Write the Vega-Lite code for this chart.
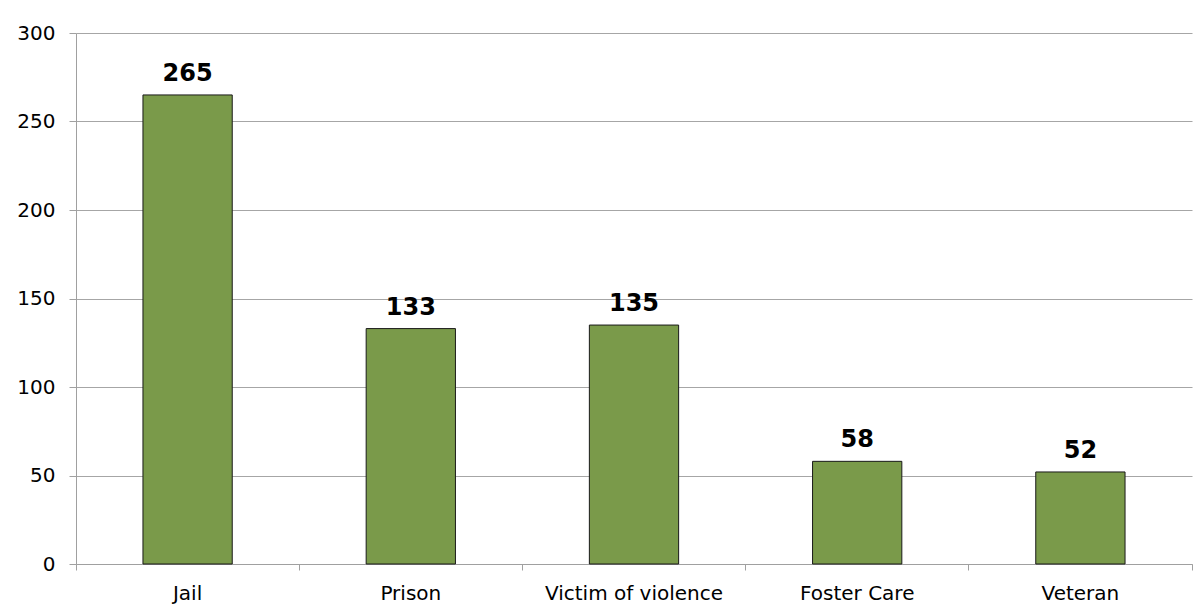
{
  "$schema": "https://vega.github.io/schema/vega-lite/v6.json",
  "width": 1116,
  "height": 531,
  "autosize": {"type": "none"},
  "padding": {"left": 76, "top": 33, "right": 10, "bottom": 50},
  "background": "white",
  "config": {
    "view": {"stroke": null},
    "font": "DejaVu Sans"
  },
  "data": {
    "values": [
      {"category": "Jail", "count": 265},
      {"category": "Prison", "count": 133},
      {"category": "Victim of violence", "count": 135},
      {"category": "Foster Care", "count": 58},
      {"category": "Veteran", "count": 52}
    ]
  },
  "encoding": {
    "x": {
      "field": "category",
      "type": "nominal",
      "sort": null,
      "scale": {"paddingInner": 0, "paddingOuter": 0},
      "axis": {
        "title": null,
        "labelAngle": 0,
        "labelFont": "DejaVu Sans",
        "labelFontSize": 20,
        "labelColor": "#000000",
        "labelPadding": 13,
        "domainColor": "#a0a0a0",
        "tickColor": "#a0a0a0",
        "tickSize": 6,
        "bandPosition": 1,
        "tickExtra": true,
        "grid": false
      }
    },
    "y": {
      "field": "count",
      "type": "quantitative",
      "scale": {"domain": [0, 300], "nice": false},
      "axis": {
        "title": null,
        "values": [0, 50, 100, 150, 200, 250, 300],
        "labelFont": "DejaVu Sans",
        "labelFontSize": 20,
        "labelColor": "#000000",
        "labelPadding": 14,
        "domainColor": "#a0a0a0",
        "tickColor": "#a0a0a0",
        "tickSize": 7,
        "gridColor": "#a6a6a6",
        "gridWidth": 1,
        "gridOpacity": 1
      }
    }
  },
  "layer": [
    {
      "mark": {"type": "bar", "width": {"band": 0.4}, "color": "#7a9a4a", "stroke": "#1a1a1a", "strokeWidth": 1}
    },
    {
      "mark": {"type": "text", "baseline": "alphabetic", "dy": -14, "fontSize": 24, "fontWeight": "bold", "font": "DejaVu Sans", "color": "#000000"},
      "encoding": {"text": {"field": "count", "type": "quantitative"}}
    }
  ]
}
